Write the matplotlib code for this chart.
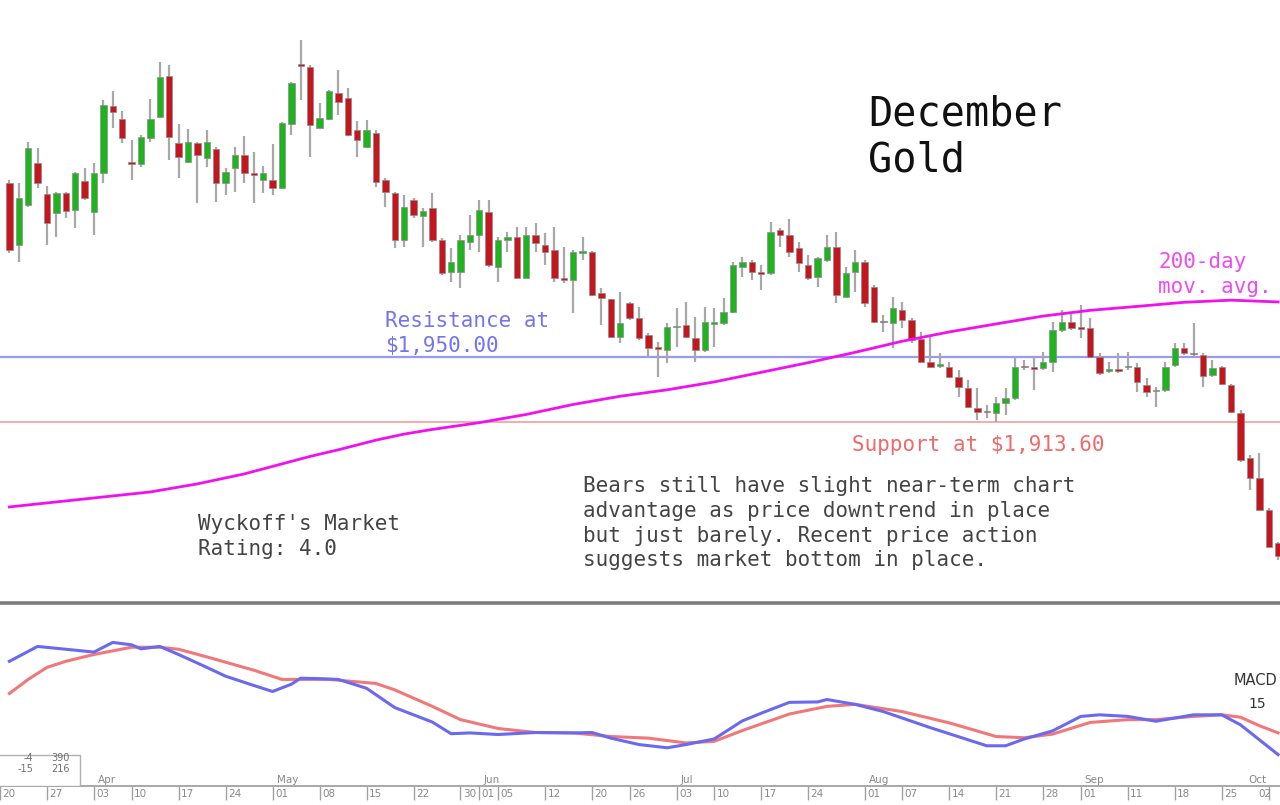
import numpy as np
import pandas as pd
import matplotlib
matplotlib.use('Agg')
import matplotlib.pyplot as plt
from matplotlib.patches import Rectangle

# trading days shown on the chart (index 0 = Mar 20, 2023)
holidays = ['2023-04-07', '2023-05-29', '2023-06-19', '2023-07-04', '2023-09-04']
days = pd.bdate_range('2023-03-20', '2023-10-03')
days = days[~days.isin(pd.to_datetime(holidays))]
pos = {d.strftime('%Y-%m-%d'): i for i, d in enumerate(days)}

# daily candles, Mar 21 .. Oct 3 (December gold futures)
opens = [2047.4, 2012.7, 2035.1, 2058.6, 2041.3, 2030.6, 2041.8, 2032.3, 2048.5, 2031.2,
         2053.0, 2090.5, 2083.3, 2058.6, 2058.1, 2072.6, 2084.4, 2107.3, 2069.8, 2059.2,
         2069.8, 2061.4, 2066.5, 2047.4, 2055.8, 2063.1, 2052.5, 2049.1, 2049.1, 2044.6,
         2080.5, 2114.1, 2112.4, 2078.2, 2083.3, 2097.8, 2095.0, 2077.1, 2067.6, 2075.4,
         2049.1, 2041.8, 2015.5, 2037.9, 2028.9, 2033.4, 2015.5, 1997.6, 1997.6, 2014.4,
         2018.3, 2031.2, 2000.4, 2015.5, 2017.2, 1994.2, 2018.3, 2012.7, 2009.9, 1994.2,
         1993.1, 2008.4, 2008.8, 1985.8, 1982.5, 1961.2, 1980.2, 1971.8, 1962.3, 1955.3,
         1953.9, 1966.5, 1967.9, 1960.6, 1953.9, 1968.7, 1969.0, 1975.2, 2000.4, 2003.2,
         1997.3, 1997.0, 2021.1, 2018.3, 2011.0, 2001.5, 1994.8, 2004.3, 2011.6, 1983.6,
         1997.6, 2003.2, 1989.2, 1969.9, 1969.0, 1976.3, 1970.7, 1960.1, 1947.2, 1945.2,
         1944.4, 1938.8, 1932.6, 1921.4, 1919.5, 1918.6, 1924.2, 1927.0, 1944.7, 1944.1,
         1943.8, 1947.2, 1965.1, 1969.6, 1966.5, 1966.2, 1950.0, 1942.4, 1943.0, 1944.1,
         1944.4, 1934.3, 1930.7, 1931.5, 1945.5, 1955.0, 1952.0, 1951.1, 1939.9, 1944.4,
         1934.3, 1918.6, 1893.4, 1882.2, 1864.3, 1845.8]
highs = [2049.1, 2047.4, 2070.4, 2067.0, 2045.7, 2042.4, 2042.4, 2053.6, 2055.8, 2058.6,
         2093.9, 2098.9, 2087.7, 2071.5, 2074.3, 2094.5, 2115.2, 2113.5, 2080.5, 2077.7,
         2070.4, 2077.1, 2067.6, 2055.8, 2067.6, 2073.8, 2064.8, 2056.9, 2069.3, 2081.6,
         2104.0, 2127.5, 2113.5, 2092.2, 2099.5, 2110.7, 2100.6, 2082.1, 2082.7, 2077.1,
         2050.2, 2042.4, 2040.7, 2039.0, 2033.4, 2041.8, 2016.6, 2011.0, 2018.3, 2029.5,
         2037.9, 2037.9, 2017.2, 2020.0, 2022.8, 2022.8, 2025.0, 2019.4, 2022.8, 2011.6,
         2009.9, 2017.2, 2009.3, 1988.6, 1982.5, 1986.4, 1980.8, 1978.0, 1963.4, 1958.4,
         1969.0, 1977.4, 1980.8, 1972.4, 1978.0, 1977.4, 1983.0, 2003.2, 2006.0, 2004.3,
         2001.5, 2025.6, 2022.2, 2027.3, 2014.4, 2007.1, 2006.0, 2018.3, 2020.0, 2000.4,
         2009.9, 2004.3, 1990.3, 1973.5, 1983.6, 1980.8, 1971.8, 1964.0, 1962.3, 1952.2,
         1947.2, 1942.7, 1937.1, 1932.6, 1923.1, 1927.6, 1932.6, 1949.4, 1948.3, 1950.0,
         1952.8, 1969.6, 1976.3, 1975.2, 1979.1, 1971.8, 1952.2, 1947.2, 1952.2, 1952.8,
         1946.6, 1938.2, 1933.2, 1947.2, 1957.8, 1957.8, 1969.0, 1952.2, 1948.3, 1944.9,
         1934.9, 1920.3, 1895.1, 1896.2, 1865.4, 1846.4]
lows = [2008.2, 2003.2, 2034.0, 2044.6, 2012.7, 2017.2, 2027.8, 2022.2, 2037.9, 2018.3,
        2047.4, 2078.2, 2069.8, 2049.1, 2056.4, 2070.4, 2084.4, 2060.3, 2050.2, 2058.6,
        2036.2, 2056.4, 2036.8, 2040.7, 2042.4, 2047.4, 2036.2, 2041.8, 2040.7, 2044.1,
        2074.3, 2093.9, 2062.0, 2078.2, 2082.7, 2085.5, 2073.8, 2062.0, 2067.0, 2045.2,
        2034.0, 2011.0, 2011.6, 2027.8, 2011.6, 2014.4, 1995.9, 1992.0, 1988.6, 2009.9,
        2008.8, 2000.4, 1992.0, 2008.8, 1994.2, 1994.2, 2008.8, 2001.5, 1992.0, 1991.4,
        1974.6, 2004.3, 1984.2, 1967.9, 1960.6, 1957.8, 1970.7, 1959.5, 1950.0, 1938.8,
        1946.6, 1955.6, 1960.6, 1947.2, 1952.8, 1955.6, 1967.9, 1974.6, 1994.8, 1993.1,
        1987.5, 1995.9, 2011.6, 2006.0, 1997.6, 1993.1, 1989.2, 2003.2, 1980.2, 1983.6,
        1986.4, 1978.0, 1969.0, 1964.0, 1955.0, 1966.2, 1957.8, 1947.2, 1943.8, 1943.8,
        1938.2, 1927.6, 1921.4, 1914.7, 1915.8, 1913.6, 1917.5, 1925.9, 1942.7, 1931.5,
        1942.7, 1941.6, 1964.0, 1965.1, 1960.6, 1950.0, 1939.9, 1941.0, 1941.0, 1942.7,
        1930.4, 1927.6, 1922.0, 1930.4, 1944.4, 1951.1, 1950.0, 1933.2, 1938.8, 1934.3,
        1918.6, 1891.2, 1875.5, 1864.3, 1843.6, 1836.3]
closes = [2009.9, 2039.0, 2067.0, 2047.4, 2025.0, 2041.8, 2031.7, 2053.0, 2039.0, 2053.0,
          2091.1, 2087.2, 2072.6, 2058.0, 2073.2, 2083.3, 2106.8, 2073.2, 2062.0, 2070.4,
          2063.1, 2070.4, 2047.4, 2053.6, 2063.1, 2053.0, 2052.0, 2053.0, 2044.6, 2081.0,
          2103.4, 2113.0, 2079.9, 2083.8, 2098.9, 2092.8, 2074.3, 2071.5, 2077.1, 2048.0,
          2042.4, 2015.5, 2034.0, 2029.5, 2031.7, 2015.5, 1997.0, 2003.2, 2015.5, 2018.3,
          2032.3, 2001.5, 2015.5, 2017.2, 1994.2, 2018.3, 2013.8, 2008.8, 1994.2, 1993.1,
          2008.8, 2009.0, 1984.7, 1983.0, 1961.2, 1969.0, 1971.8, 1960.6, 1955.0, 1954.7,
          1966.8, 1967.1, 1961.2, 1953.9, 1969.6, 1969.3, 1975.2, 2001.5, 2003.2, 1997.6,
          1996.7, 2020.0, 2018.3, 2008.8, 2002.6, 1994.2, 2005.4, 2011.6, 1984.7, 1997.0,
          2003.2, 1980.2, 1969.6, 1969.3, 1977.4, 1970.7, 1959.5, 1947.2, 1944.4, 1945.8,
          1938.8, 1933.2, 1922.0, 1919.2, 1918.9, 1924.2, 1927.0, 1944.4, 1944.1, 1943.5,
          1947.2, 1965.1, 1969.6, 1966.2, 1965.9, 1950.0, 1941.0, 1943.0, 1942.4, 1944.7,
          1936.0, 1930.4, 1931.3, 1944.4, 1955.0, 1952.2, 1951.4, 1939.3, 1943.8, 1934.9,
          1919.2, 1892.3, 1882.2, 1864.3, 1843.6, 1838.5]

# 200-day moving average
ma_idx = [1, 6, 11, 16, 21, 26, 31, 33, 36, 40, 43, 46, 51, 56, 61, 66,
          71, 76, 81, 86, 91, 96, 101, 106, 111, 116, 121, 126, 131, 136]
ma_vals = [1866.0, 1868.8, 1871.6, 1874.4, 1878.9, 1884.5, 1891.5, 1894.3, 1898.0, 1903.4,
           1906.8, 1909.4, 1913.2, 1917.8, 1923.4, 1928.0, 1931.6, 1936.0, 1941.4, 1946.8,
           1952.6, 1958.8, 1964.0, 1968.5, 1972.9, 1976.1, 1978.3, 1980.6, 1981.8, 1980.8]

resistance = 1950.00
support = 1913.60

# MACD (blue) and signal (red)
macd_idx = [1, 4, 7, 10, 12, 14, 15, 17, 19, 22, 24, 27, 29, 31, 32, 34, 36, 39, 42, 44,
            46, 48, 50, 53, 57, 61, 63, 65, 68, 71, 73, 76, 79, 81, 84, 87, 88, 91, 94, 99,
            103, 105, 107, 109, 112, 115, 117, 120, 123, 127, 130, 132, 134, 136]
macd_vals = [14.5, 18.2, 17.5, 16.8, 19.2, 18.6, 17.6, 18.2, 16.2, 13.0, 10.8, 8.5, 7.0, 8.8,
             10.3, 10.2, 10.0, 7.8, 3.0, 1.2, -0.6, -3.5, -3.3, -3.7, -3.2, -3.3, -3.2, -4.6,
             -6.2, -7.0, -6.2, -4.8, -0.3, 1.6, 4.3, 4.4, 5.0, 3.8, 2.0, -2.0, -5.0, -6.5,
             -6.5, -4.8, -2.8, 0.8, 1.2, 0.8, -0.4, 1.2, 1.2, -1.3, -5.0, -8.7]
sig_idx = [1, 3, 5, 7, 10, 14, 17, 19, 22, 27, 30, 35, 40, 42, 46, 49, 53, 57, 61, 65,
           69, 73, 76, 79, 84, 88, 91, 96, 101, 106, 109, 112, 116, 120, 123, 127, 130, 132,
           134, 136]
sig_vals = [6.5, 10.0, 13.0, 14.5, 16.2, 18.0, 18.0, 17.5, 15.6, 12.3, 10.0, 10.0, 9.0, 7.4,
            3.3, 0.0, -2.2, -3.2, -3.3, -4.2, -4.6, -5.8, -5.4, -2.7, 1.4, 3.3, 3.8, 2.0,
            -0.8, -4.2, -4.5, -3.6, -0.7, 0.0, 0.0, 0.8, 1.2, 0.6, -1.5, -3.3]

tick_dates = ['2023-03-20', '2023-03-27', '2023-04-03', '2023-04-10', '2023-04-17',
              '2023-04-24', '2023-05-01', '2023-05-08', '2023-05-15', '2023-05-22',
              '2023-05-30', '2023-06-01', '2023-06-05', '2023-06-12', '2023-06-20',
              '2023-06-26', '2023-07-03', '2023-07-10', '2023-07-17', '2023-07-24',
              '2023-08-01', '2023-08-07', '2023-08-14', '2023-08-21', '2023-08-28',
              '2023-09-01', '2023-09-11', '2023-09-18', '2023-09-25', '2023-10-02']
month_names = ['Apr', 'May', 'Jun', 'Jul', 'Aug', 'Sep', 'Oct']
month_dates = ['2023-04-03', '2023-05-01', '2023-06-01', '2023-07-03', '2023-08-01',
               '2023-09-01', '2023-10-02']

W, H = 1280, 805
MONO = 'DejaVu Sans Mono'
fig = plt.figure(figsize=(W / 100, H / 100), dpi=100)
ax = fig.add_axes([0, 1 - 603 / H, 1, 603 / H])
ax2 = fig.add_axes([0, 1 - 786 / H, 1, 183 / H], sharex=ax)

x = np.arange(1, len(opens) + 1)
o, h, l, c = map(np.array, (opens, highs, lows, closes))
up = c >= o
bottom = np.minimum(o, c)
height = np.maximum(np.abs(c - o), 0.9)

ax.vlines(x, l, h, color='#a8a8a8', linewidth=1.6, zorder=2)
ax.bar(x[up], height[up], bottom=bottom[up], width=0.68, color='#1fb41f',
       edgecolor='#8c8c8c', linewidth=0.5, zorder=3)
ax.bar(x[~up], height[~up], bottom=bottom[~up], width=0.68, color='#c4161c',
       edgecolor='#8c8c8c', linewidth=0.5, zorder=3)

ax.axhline(resistance, color='#9a9af2', linewidth=1.6, zorder=1)
ax.axhline(support, color='#f4a4a4', linewidth=1.3, zorder=1)
ax.plot(ma_idx, ma_vals, color='#f010f0', linewidth=2.0, zorder=4)

ax.set_xlim(0.767, 136.2)
ax.set_ylim(1812.2, 2149.9)
ax.axis('off')

# annotations (figure pixel positions, top of capitals)
def label(px, py, s, size, color, ls=1.33):
    fig.text(px / W, 1 - py / H, s, fontsize=size, color=color, family=MONO,
             va='top', ha='left', linespacing=ls)

label(868, 94, 'December\nGold', 29, '#111111', ls=1.2)
label(385, 311, 'Resistance at\n$1,950.00', 15, '#7474ee', ls=1.3)
label(1158, 252, '200-day\nmov. avg.', 15, '#ee4cee', ls=1.3)
label(852, 435, 'Support at $1,913.60', 15, '#f06868')
label(198, 514, "Wyckoff's Market\nRating: 4.0", 15, '#444444', ls=1.3)
label(583, 476, 'Bears still have slight near-term chart\n'
      'advantage as price downtrend in place\n'
      'but just barely. Recent price action\n'
      'suggests market bottom in place.', 15, '#444444', ls=1.3)

# MACD panel
ax2.plot(sig_idx, sig_vals, color='#f07878', linewidth=2.2)
ax2.plot(macd_idx, macd_vals, color='#6a6af0', linewidth=2.2)
ax2.set_ylim(-16.5, 29.0)
for s in ['left', 'right']:
    ax2.spines[s].set_visible(False)
ax2.spines['top'].set_color('#7c7c7c')
ax2.spines['top'].set_linewidth(2.6)
ax2.spines['bottom'].set_color('#a8a8a8')
ax2.spines['bottom'].set_linewidth(1.4)
ax2.set_yticks([])

tick_pos = [pos[d] for d in tick_dates]
ax2.set_xticks(tick_pos)
ax2.set_xticklabels([])
ax2.tick_params(axis='x', direction='out', length=10, width=1, color='#a0a0a0')
for d, p in zip(tick_dates, tick_pos):
    last = d == tick_dates[-1]
    ax2.annotate(d[-2:], (p, 0), xycoords=('data', 'axes fraction'),
                 xytext=(2.5, -8), textcoords='offset pixels', fontsize=7.5,
                 color='#8a8a8a', ha='right' if last else 'left', va='center')
for name, d in zip(month_names, month_dates):
    last = name == month_names[-1]
    ax2.annotate(name, (pos[d], 0), xycoords=('data', 'axes fraction'),
                 xytext=(-2 if last else 4, 6), textcoords='offset pixels', fontsize=7.5,
                 color='#8a8a8a', ha='right' if last else 'left', va='center')

# value box in the lower left corner
ax2.add_patch(Rectangle((-0.01, 0), 0.0725, 0.17, transform=ax2.transAxes,
                        facecolor='white', edgecolor='#b0b0b0', linewidth=1, zorder=5))
ax2.text(33 / W, 0.125, '-4\n-15', transform=ax2.transAxes, fontsize=7, color='#707070',
         ha='right', va='center', linespacing=1.1, zorder=6)
ax2.text(70 / W, 0.125, '390\n216', transform=ax2.transAxes, fontsize=7, color='#707070',
         ha='right', va='center', linespacing=1.1, zorder=6)

fig.text(1277 / W, 1 - 673 / H, 'MACD', fontsize=10.5, color='#333333', va='top', ha='right')
fig.text(1248 / W, 1 - 697 / H, '15', fontsize=10, color='#333333', va='top', ha='left')

fig.savefig('out.png', dpi=100, facecolor='white')
